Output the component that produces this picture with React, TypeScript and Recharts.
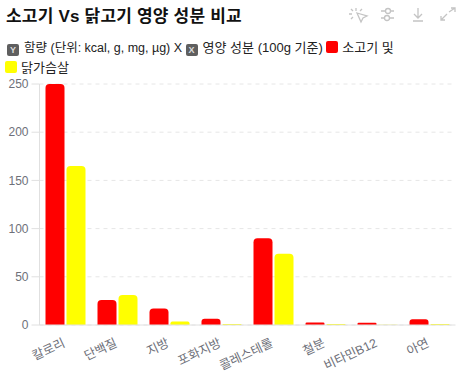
import { BarChart, Bar, XAxis, YAxis, CartesianGrid } from 'recharts'

// ─── Data ─────────────────────────────────────────────────────────────────────

const categories = ['칼로리', '단백질', '지방', '포화지방', '콜레스테롤', '철분', '비타민B12', '아연']
const beef = [250, 26, 17, 6.5, 90, 2.6, 2.4, 6]
const chicken = [165, 31, 3.6, 1, 74, 1, 0.3, 1]
const yTicks = [0, 50, 100, 150, 200, 250]

const data = categories.map((name, i) => ({ name, beef: beef[i], chicken: chicken[i] }))

const FONT = '"Liberation Sans", "Noto Sans CJK KR", sans-serif'

// ─── Small parts ──────────────────────────────────────────────────────────────

function AngledTick({ x, y, payload }: { x?: number; y?: number; payload?: { value: string } }) {
  return (
    <text
      x={x}
      y={y}
      dy={12}
      dx={-5}
      textAnchor="end"
      fontSize={12.5}
      fontFamily={FONT}
      fill="#6e7079"
      transform={`rotate(-25 ${x} ${y})`}
    >
      {payload?.value}
    </text>
  )
}

function AxisBadge({ letter }: { letter: string }) {
  return (
    <span style={{
      display: 'inline-block', width: 12, height: 12, lineHeight: '12px', borderRadius: 2,
      background: '#5f5f5f', color: '#ddd', fontSize: 9, fontWeight: 700, textAlign: 'center',
      marginRight: 5, verticalAlign: -1,
    }}>{letter}</span>
  )
}

function Swatch({ color }: { color: string }) {
  return (
    <span style={{
      display: 'inline-block', width: 12, height: 12, borderRadius: 2,
      background: color, marginRight: 4, verticalAlign: -1,
    }} />
  )
}

function ToolIcons() {
  const stroke = { fill: 'none', stroke: '#c4c4c4', strokeWidth: 1.3 }
  return (
    <svg width={461} height={30} style={{ position: 'absolute', left: 0, top: 0 }}>
      <g {...stroke}>
        <path d="M357 13 L367 16 L363 18 L361 22 Z" />
        <path d="M356 8 V11 M351 9 L353 11 M349 14 H352 M351 19 L353 17 M362 9 L360 11" />
        <path d="M381 11 H385 M391 11 H394 M381 18 H384 M390 18 H394" />
        <circle cx={388} cy={11} r={2.5} />
        <circle cx={387} cy={18} r={2.5} />
        <path d="M418 8 V18 M414 14 L418 18 L422 14 M413 21 H423" />
        <path d="M441 20 L447 14 M441 16 V20 H445 M449 12 L455 8 M451 8 H455 V12" />
      </g>
    </svg>
  )
}

// ─── Component ────────────────────────────────────────────────────────────────

export default function App() {
  return (
    <div style={{ position: 'absolute', left: 0, top: 0, width: 461, height: 373, background: '#fff', overflow: 'hidden' }}>
      <BarChart
        width={461}
        height={373}
        data={data}
        barSize={19}
        barGap={2}
        margin={{ top: 84, right: 5.5, bottom: 0, left: 0 }}
      >
        <CartesianGrid vertical={false} stroke="#e6e6e6" strokeDasharray="4 4" />
        <XAxis
          dataKey="name"
          interval={0}
          height={48}
          tick={<AngledTick />}
          tickLine={false}
          axisLine={{ stroke: '#e0e0e0' }}
        />
        <YAxis
          width={39.5}
          domain={[0, 250]}
          ticks={yTicks}
          tick={{ fontSize: 12, fill: '#6e7079', fontFamily: FONT }}
          tickLine={{ stroke: '#e0e0e0' }}
          tickSize={8}
          tickMargin={3}
          axisLine={{ stroke: '#e0e0e0' }}
        />
        <Bar dataKey="beef" fill="#ff0000" radius={[4, 4, 0, 0]} isAnimationActive={false} />
        <Bar dataKey="chicken" fill="#ffff00" radius={[4, 4, 0, 0]} isAnimationActive={false} />
      </BarChart>

      <div style={{ position: 'absolute', left: 6, top: 2, fontFamily: FONT, fontSize: 17, letterSpacing: 0.2, fontWeight: 700, color: '#111', whiteSpace: 'nowrap' }}>
        소고기 Vs 닭고기 영양 성분 비교
      </div>
      <ToolIcons />
      <div style={{ position: 'absolute', left: 7, top: 38, width: 440, fontFamily: FONT, fontSize: 12.5, lineHeight: '19px', color: '#222' }}>
        <AxisBadge letter="Y" />함량 (단위: kcal, g, mg, µg) X <AxisBadge letter="X" />
        <span style={{ fontSize: 13 }}>영양 성분 (100g 기준)</span> <Swatch color="#ff0000" />
        <span style={{ fontSize: 13 }}>소고기 및</span>
        <div style={{ marginLeft: -2, marginTop: 0, fontSize: 13 }}><Swatch color="#ffff00" />닭가슴살</div>
      </div>
    </div>
  )
}
